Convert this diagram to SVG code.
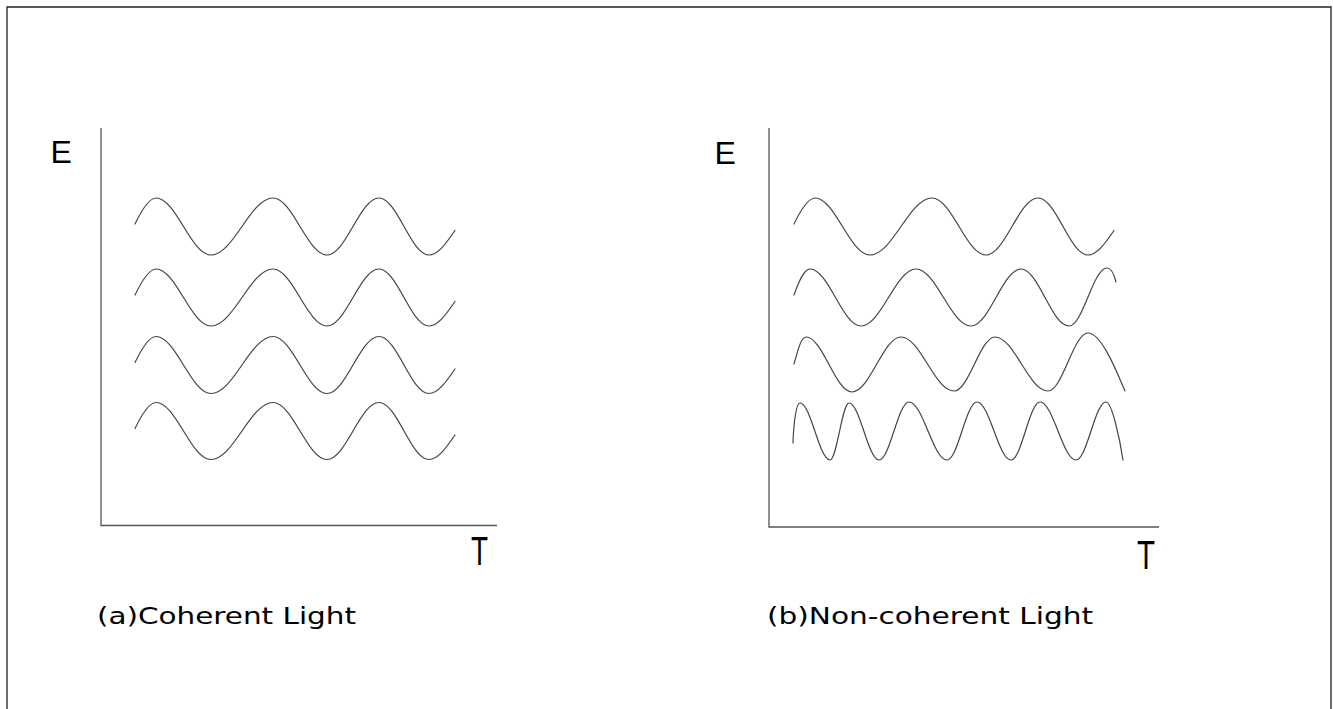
<svg xmlns="http://www.w3.org/2000/svg" xmlns:xlink="http://www.w3.org/1999/xlink" width="1333" height="709" viewBox="0 0 1333 709">
<style>
.frame{fill:none;stroke:#222;stroke-width:1.3}
.axis{fill:none;stroke:#555;stroke-width:1.3}
.wave{fill:none;stroke:#444;stroke-width:1.2;stroke-linecap:round;stroke-linejoin:round}
.lbl{font-family:"DejaVu Sans","Liberation Sans",sans-serif;font-size:23px;fill:#000}
.big{font-family:"Liberation Sans",Arial,sans-serif;fill:#000}
</style>
<defs>
<path id="cw" class="wave" d="M135,-2.5 C142,-17 149,-28.5 156,-28.5 C176,-28.5 191,28.5 211,28.5 C233.5,28.5 250.5,-28.5 273,-28.5 C292.6,-28.5 307.4,28.5 327,28.5 C345.9,28.5 360.1,-28.5 379,-28.5 C397.2,-28.5 410.8,28.5 429,28.5 C438,28.5 446,17 455,4"/>
</defs>
<path class="frame" d="M7,709 V7 H1331 V709"/>
<g id="panel-a">
<g id="axes-a">
<path class="axis" d="M101,128 V525.5 H497"/>
<text class="big" x="50.5" y="163" font-size="32">E</text>
<text class="big" x="471" y="565" font-size="40" textLength="17" lengthAdjust="spacingAndGlyphs">T</text>
</g>
<g id="waves-a">
<use xlink:href="#cw" transform="translate(0,226.5)"/>
<use xlink:href="#cw" transform="translate(0,297.5)"/>
<use xlink:href="#cw" transform="translate(0,365)"/>
<use xlink:href="#cw" transform="translate(0,431)"/>
</g>
<text class="lbl" x="97" y="624" textLength="259" lengthAdjust="spacingAndGlyphs">(a)Coherent Light</text>
</g>
<g id="panel-b">
<g id="axes-b">
<path class="axis" d="M769,128 V527 H1159"/>
<text class="big" x="714.5" y="164" font-size="32">E</text>
<text class="big" x="1137" y="569" font-size="40" textLength="18" lengthAdjust="spacingAndGlyphs">T</text>
</g>
<g id="waves-b">
<use xlink:href="#cw" transform="translate(659,226.5)"/>
<path class="wave" d="M794,295 C799,281 804,269 810,269 C828.5,269 842.5,326 861,326 C881,326 896,269 916,269 C936,269 951,326 971,326 C989.2,326 1002.8,269 1021,269 C1038.4,269 1051.6,326 1069,326 C1082.8,326 1093.2,268 1107,268 C1111,268 1114,274 1116,282"/>
<path class="wave" d="M794,364 C798,350 801,337 806,337 C822.7,337 835.3,392 852,392 C869.8,392 883.2,337 901,337 C920.3,337 934.7,391 954,391 C968.9,391 980.1,337 995,337 C1014.3,337 1028.7,391 1048,391 C1062.5,391 1073.5,333 1088,333 C1102,333 1118,375 1125,391"/>
<path class="wave" d="M793,443 C793.5,425 796,403 800,403 C810.9,403 819.1,460 830,460 C836.9,460 842.1,403 849,403 C859.9,403 868.1,460 879,460 C889.9,460 898.1,402 909,402 C922.8,402 933.2,460 947,460 C957.9,460 966.1,402 977,402 C989.4,402 998.6,460 1011,460 C1021.5,460 1029.5,402 1040,402 C1053.1,402 1062.9,460 1076,460 C1086.9,460 1095.1,402 1106,402 C1112,402 1120,440 1123,460"/>
</g>
<text class="lbl" x="767" y="624" textLength="326" lengthAdjust="spacingAndGlyphs">(b)Non-coherent Light</text>
</g>
</svg>
